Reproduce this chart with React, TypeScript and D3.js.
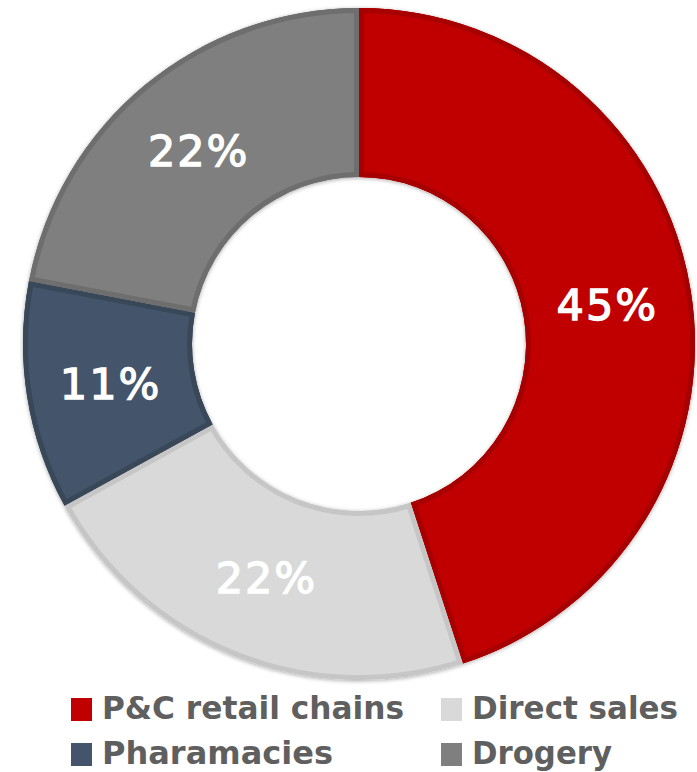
import React from "react";
import * as d3 from "d3";

const categories = ["P&C retail chains", "Direct sales", "Pharamacies", "Drogery"];
const values = [45, 22, 11, 22];
const labels = ["45%", "22%", "11%", "22%"];
const fills = ["#C00000", "#D9D9D9", "#44546A", "#7F7F7F"];
const strokes = ["#A60000", "#C6C6C6", "#394859", "#6E6E6E"];
const legendOrder = [0, 1, 2, 3];
const legendWidths = [302, 206, 231, 140];

export default function App() {
  const W = 697;
  const H = 772;
  const cx = 359;
  const cy = 344;
  const outerR = 336;
  const innerR = 167;

  const pie = d3.pie<number>().sort(null).value((d) => d)(values);
  const arc = d3.arc<d3.PieArcDatum<number>>().innerRadius(innerR).outerRadius(outerR);
  const labelArc = d3
    .arc<d3.PieArcDatum<number>>()
    .innerRadius((innerR + outerR) / 2)
    .outerRadius((innerR + outerR) / 2);

  const legendX = [70, 440];
  const legendY = [698, 743];

  return (
    <svg
      width={W}
      height={H}
      style={{ position: "absolute", left: 0, top: 0, background: "#fff" }}
    >
      <defs>
        <filter id="shadow" x="-10%" y="-10%" width="120%" height="120%">
          <feGaussianBlur in="SourceAlpha" stdDeviation="2" />
          <feOffset dx="0" dy="1" result="b" />
          <feComponentTransfer>
            <feFuncA type="linear" slope="0.35" />
          </feComponentTransfer>
          <feMerge>
            <feMergeNode />
            <feMergeNode in="SourceGraphic" />
          </feMerge>
        </filter>
        {pie.map((p, i) => (
          <clipPath id={`clip${i}`} key={i}>
            <path d={arc(p) || ""} />
          </clipPath>
        ))}
      </defs>
      <g transform={`translate(${cx},${cy})`}>
        <g filter="url(#shadow)">
          {pie.map((p, i) => (
            <path key={i} d={arc(p) || ""} fill={fills[i]} />
          ))}
        </g>
        {pie.map((p, i) => (
          <path
            key={"s" + i}
            d={arc(p) || ""}
            fill={fills[i]}
            stroke={strokes[i]}
            strokeWidth={10}
            clipPath={`url(#clip${i})`}
          />
        ))}
        {pie.map((p, i) => {
          const [x, y] = labelArc.centroid(p);
          return (
            <text
              key={"l" + i}
              x={x}
              y={y}
              dy="0.36em"
              textAnchor="middle"
              fill="#ffffff"
              stroke="#ffffff"
              strokeWidth={1.3}
              fontFamily="'DejaVu Sans', Verdana, sans-serif"
              fontSize={43}
              letterSpacing={2}
            >
              {labels[i]}
            </text>
          );
        })}
      </g>
      <g>
        {legendOrder.map((idx, k) => {
          const col = k % 2;
          const row = Math.floor(k / 2);
          const x = legendX[col];
          const y = legendY[row];
          return (
            <g key={"lg" + idx}>
              <rect x={x + 1} y={y} width={21} height={23} fill={fills[idx]} />
              <text
                x={x + 32}
                y={y + 21}
                fill="#5F5F5F"
                fontFamily="'Liberation Sans Narrow', 'DejaVu Sans Condensed', 'Roboto', sans-serif"
                fontWeight="bold"
                fontSize={32}
                textLength={legendWidths[idx]}
                lengthAdjust="spacingAndGlyphs"
              >
                {categories[idx]}
              </text>
            </g>
          );
        })}
      </g>
    </svg>
  );
}
